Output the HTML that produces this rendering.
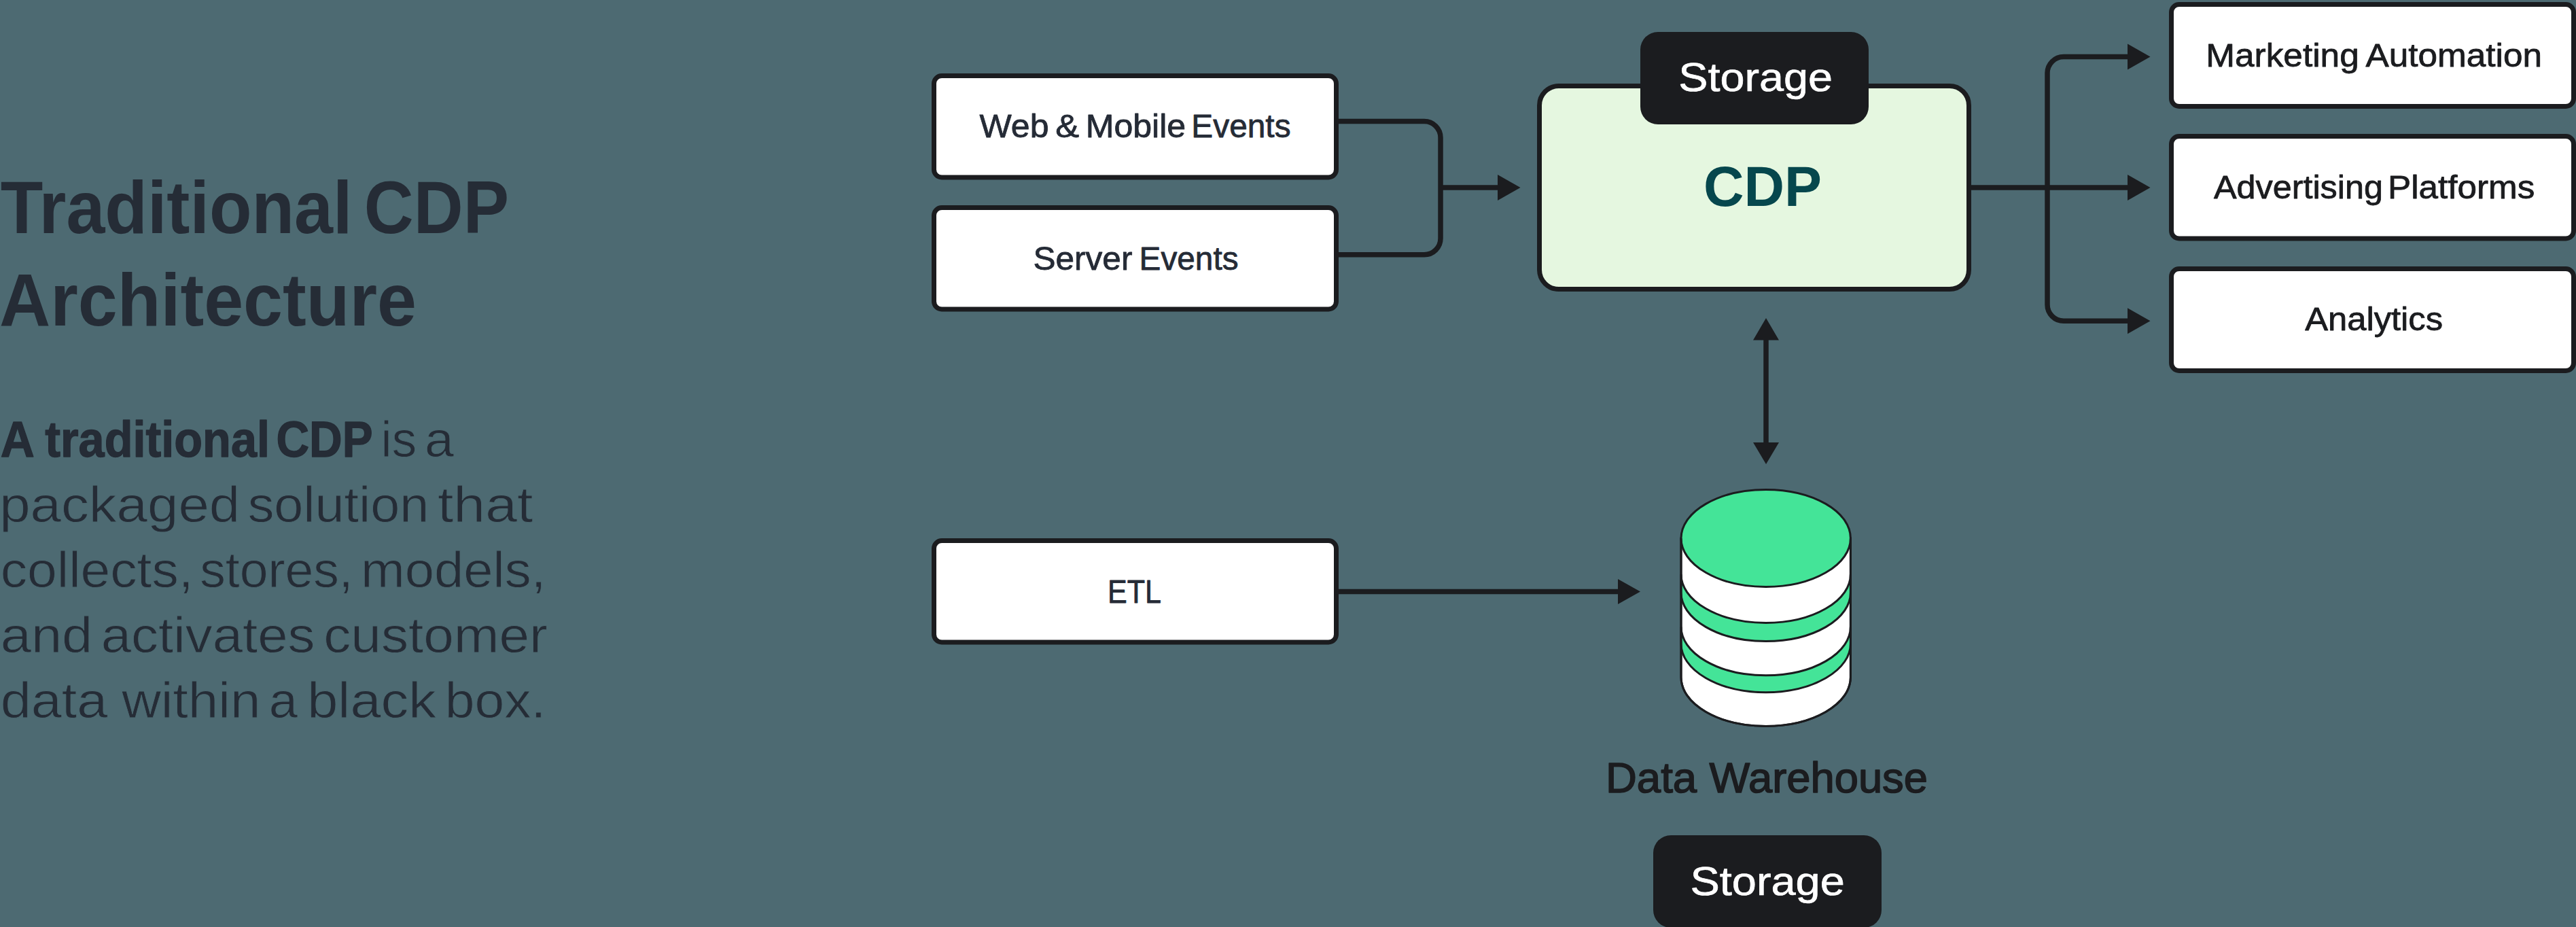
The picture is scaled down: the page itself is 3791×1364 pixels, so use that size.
<!DOCTYPE html>
<html>
<head>
<meta charset="utf-8">
<style>
html,body{margin:0;padding:0;background:#4d6a72;width:3791px;height:1364px;overflow:hidden;}
svg{display:block;position:absolute;left:0;top:0;}
text{font-family:"Liberation Sans",sans-serif;}
</style>
</head>
<body>
<svg width="3791" height="1364" viewBox="0 0 3791 1364">
<rect x="0" y="0" width="3791" height="1364" fill="#4d6a72"/>

<!-- Boxes -->
<g fill="#ffffff" stroke="#1b1c1f" stroke-width="7">
<rect x="1374.5" y="111.5" width="592" height="149.5" rx="11.5"/>
<rect x="1374.5" y="305.5" width="592" height="149.5" rx="11.5"/>
<rect x="1374.5" y="795.5" width="592" height="149.5" rx="11.5"/>
<rect x="3195.5" y="6.5" width="592" height="150" rx="11.5"/>
<rect x="3195.5" y="200.5" width="592" height="150.5" rx="11.5"/>
<rect x="3195.5" y="395.5" width="592" height="150" rx="11.5"/>
</g>

<!-- CDP box -->
<rect x="2265.5" y="126.5" width="632" height="299" rx="28.5" fill="#e5f7e0" stroke="#1b1c1f" stroke-width="7"/>

<!-- Storage pills -->
<rect x="2414" y="47" width="336" height="136" rx="26" fill="#1b1c1f"/>
<rect x="2433" y="1229" width="336" height="136" rx="26" fill="#1b1c1f"/>

<!-- Connectors -->
<g fill="none" stroke="#1b1c1f" stroke-width="7.5">
<path d="M1966,178.5 H2096 A24,24 0 0 1 2120,202.5 V350.8 A24,24 0 0 1 2096,374.8 H1966"/>
<path d="M2120,276 H2206"/>
<path d="M2897,276 H3133"/>
<path d="M3133,83.5 H3037 A24,24 0 0 0 3013,107.5 V448.3 A24,24 0 0 0 3037,472.3 H3133"/>
<path d="M2599,498 V653"/>
<path d="M1966,870.5 H2383"/>
</g>
<g fill="#1b1c1f">
<polygon points="2204,257 2237.5,276 2204,295"/>
<polygon points="3131,257 3164.5,276 3131,295"/>
<polygon points="3131,64.5 3164.5,83.5 3131,102.5"/>
<polygon points="3131,453.3 3164.5,472.3 3131,491.3"/>
<polygon points="2580,500.5 2599,468 2618,500.5"/>
<polygon points="2580,651 2599,683 2618,651"/>
<polygon points="2381,852 2414,870.5 2381,889"/>
</g>

<!-- Database cylinder -->
<g stroke="#1b1c1f" stroke-width="3">
<path d="M2474.00,791.95 V996.85 A124.7,71.55 0 0 0 2723.40,996.85 V791.95 Z" fill="#ffffff"/>
<path d="M2474.00,844.95 A124.7,71.55 0 0 0 2723.40,844.95 V872.05 A124.7,71.55 0 0 1 2474.00,872.05 Z" fill="#44e498"/>
<path d="M2474.00,922.25 A124.7,71.55 0 0 0 2723.40,922.25 V947.15 A124.7,71.55 0 0 1 2474.00,947.15 Z" fill="#44e498"/>
<ellipse cx="2598.7" cy="791.95" rx="124.7" ry="71.55" fill="#44e498"/>
<path d="M2474.00,791.95 V996.85 A124.7,71.55 0 0 0 2723.40,996.85 V791.95" fill="none"/>
</g>

<!-- Text -->
<text x="0.70" y="343" font-size="109" font-weight="700" fill="#252c36" textLength="517.70" lengthAdjust="spacingAndGlyphs">Traditional</text>
<text x="535.85" y="343" font-size="109" font-weight="700" fill="#252c36" textLength="213.15" lengthAdjust="spacingAndGlyphs">CDP</text>
<text x="-1.00" y="479" font-size="109" font-weight="700" fill="#252c36" textLength="614.00" lengthAdjust="spacingAndGlyphs">Architecture</text>
<text x="0.85" y="672" font-size="73.5" font-weight="700" fill="#252c36" stroke="#252c36" stroke-width="1.3" stroke-linejoin="round" textLength="50.10" lengthAdjust="spacingAndGlyphs">A</text>
<text x="66.20" y="672" font-size="73.5" font-weight="700" fill="#252c36" stroke="#252c36" stroke-width="1.3" stroke-linejoin="round" textLength="330.80" lengthAdjust="spacingAndGlyphs">traditional</text>
<text x="406.40" y="672" font-size="73.5" font-weight="700" fill="#252c36" stroke="#252c36" stroke-width="1.3" stroke-linejoin="round" textLength="142.15" lengthAdjust="spacingAndGlyphs">CDP</text>
<text x="560.50" y="672" font-size="73.5" font-weight="400" fill="#252c36" stroke="#4d6a72" stroke-width="0.8" stroke-linejoin="round" textLength="52.50" lengthAdjust="spacingAndGlyphs">is</text>
<text x="624.95" y="672" font-size="73.5" font-weight="400" fill="#252c36" stroke="#4d6a72" stroke-width="0.8" stroke-linejoin="round" textLength="42.90" lengthAdjust="spacingAndGlyphs">a</text>
<text x="-0.85" y="768" font-size="73.5" font-weight="400" fill="#252c36" stroke="#4d6a72" stroke-width="0.8" stroke-linejoin="round" textLength="354.05" lengthAdjust="spacingAndGlyphs">packaged</text>
<text x="364.65" y="768" font-size="73.5" font-weight="400" fill="#252c36" stroke="#4d6a72" stroke-width="0.8" stroke-linejoin="round" textLength="266.70" lengthAdjust="spacingAndGlyphs">solution</text>
<text x="644.00" y="768" font-size="73.5" font-weight="400" fill="#252c36" stroke="#4d6a72" stroke-width="0.8" stroke-linejoin="round" textLength="140.30" lengthAdjust="spacingAndGlyphs">that</text>
<text x="0.70" y="864" font-size="73.5" font-weight="400" fill="#252c36" stroke="#4d6a72" stroke-width="0.8" stroke-linejoin="round" textLength="283.90" lengthAdjust="spacingAndGlyphs">collects,</text>
<text x="294.20" y="864" font-size="73.5" font-weight="400" fill="#252c36" stroke="#4d6a72" stroke-width="0.8" stroke-linejoin="round" textLength="225.55" lengthAdjust="spacingAndGlyphs">stores,</text>
<text x="530.90" y="864" font-size="73.5" font-weight="400" fill="#252c36" stroke="#4d6a72" stroke-width="0.8" stroke-linejoin="round" textLength="272.50" lengthAdjust="spacingAndGlyphs">models,</text>
<text x="0.70" y="960" font-size="73.5" font-weight="400" fill="#252c36" stroke="#4d6a72" stroke-width="0.8" stroke-linejoin="round" textLength="135.65" lengthAdjust="spacingAndGlyphs">and</text>
<text x="148.70" y="960" font-size="73.5" font-weight="400" fill="#252c36" stroke="#4d6a72" stroke-width="0.8" stroke-linejoin="round" textLength="314.70" lengthAdjust="spacingAndGlyphs">activates</text>
<text x="476.25" y="960" font-size="73.5" font-weight="400" fill="#252c36" stroke="#4d6a72" stroke-width="0.8" stroke-linejoin="round" textLength="329.55" lengthAdjust="spacingAndGlyphs">customer</text>
<text x="0.70" y="1056" font-size="73.5" font-weight="400" fill="#252c36" stroke="#4d6a72" stroke-width="0.8" stroke-linejoin="round" textLength="157.50" lengthAdjust="spacingAndGlyphs">data</text>
<text x="179.20" y="1056" font-size="73.5" font-weight="400" fill="#252c36" stroke="#4d6a72" stroke-width="0.8" stroke-linejoin="round" textLength="204.20" lengthAdjust="spacingAndGlyphs">within</text>
<text x="395.75" y="1056" font-size="73.5" font-weight="400" fill="#252c36" stroke="#4d6a72" stroke-width="0.8" stroke-linejoin="round" textLength="42.20" lengthAdjust="spacingAndGlyphs">a</text>
<text x="452.20" y="1056" font-size="73.5" font-weight="400" fill="#252c36" stroke="#4d6a72" stroke-width="0.8" stroke-linejoin="round" textLength="189.60" lengthAdjust="spacingAndGlyphs">black</text>
<text x="654.65" y="1056" font-size="73.5" font-weight="400" fill="#252c36" stroke="#4d6a72" stroke-width="0.8" stroke-linejoin="round" textLength="148.75" lengthAdjust="spacingAndGlyphs">box.</text>
<text x="1441.50" y="202" font-size="48" font-weight="400" fill="#252b36" stroke="#252b36" stroke-width="0.8" stroke-linejoin="round" textLength="102.05" lengthAdjust="spacingAndGlyphs">Web</text>
<text x="1553.25" y="202" font-size="48" font-weight="400" fill="#252b36" stroke="#252b36" stroke-width="0.8" stroke-linejoin="round" textLength="34.90" lengthAdjust="spacingAndGlyphs">&amp;</text>
<text x="1597.75" y="202" font-size="48" font-weight="400" fill="#252b36" stroke="#252b36" stroke-width="0.8" stroke-linejoin="round" textLength="147.45" lengthAdjust="spacingAndGlyphs">Mobile</text>
<text x="1753.35" y="202" font-size="48" font-weight="400" fill="#252b36" stroke="#252b36" stroke-width="0.8" stroke-linejoin="round" textLength="146.20" lengthAdjust="spacingAndGlyphs">Events</text>
<text x="1520.40" y="397" font-size="48" font-weight="400" fill="#252b36" stroke="#252b36" stroke-width="0.8" stroke-linejoin="round" textLength="146.00" lengthAdjust="spacingAndGlyphs">Server</text>
<text x="1676.60" y="397" font-size="48" font-weight="400" fill="#252b36" stroke="#252b36" stroke-width="0.8" stroke-linejoin="round" textLength="145.95" lengthAdjust="spacingAndGlyphs">Events</text>
<text x="1630.00" y="886.6" font-size="48" font-weight="400" fill="#252b36" stroke="#252b36" stroke-width="0.8" stroke-linejoin="round" textLength="79.00" lengthAdjust="spacingAndGlyphs">ETL</text>
<text x="3246.15" y="97.5" font-size="48" font-weight="400" fill="#1b1c1f" stroke="#1b1c1f" stroke-width="0.8" stroke-linejoin="round" textLength="225.60" lengthAdjust="spacingAndGlyphs">Marketing</text>
<text x="3481.55" y="97.5" font-size="48" font-weight="400" fill="#1b1c1f" stroke="#1b1c1f" stroke-width="0.8" stroke-linejoin="round" textLength="259.40" lengthAdjust="spacingAndGlyphs">Automation</text>
<text x="3257.90" y="292" font-size="48" font-weight="400" fill="#1b1c1f" stroke="#1b1c1f" stroke-width="0.8" stroke-linejoin="round" textLength="249.05" lengthAdjust="spacingAndGlyphs">Advertising</text>
<text x="3514.10" y="292" font-size="48" font-weight="400" fill="#1b1c1f" stroke="#1b1c1f" stroke-width="0.8" stroke-linejoin="round" textLength="216.20" lengthAdjust="spacingAndGlyphs">Platforms</text>
<text x="3392.20" y="486.4" font-size="48" font-weight="400" fill="#1b1c1f" stroke="#1b1c1f" stroke-width="0.8" stroke-linejoin="round" textLength="202.90" lengthAdjust="spacingAndGlyphs">Analytics</text>
<text x="2507.00" y="302.8" font-size="84" font-weight="700" fill="#06474d" textLength="174.00" lengthAdjust="spacingAndGlyphs">CDP</text>
<text x="2470.30" y="134" font-size="60" font-weight="400" fill="#ffffff" stroke="#ffffff" stroke-width="0.7" stroke-linejoin="round" textLength="226.70" lengthAdjust="spacingAndGlyphs">Storage</text>
<text x="2487.50" y="1316.6" font-size="60" font-weight="400" fill="#ffffff" stroke="#ffffff" stroke-width="0.7" stroke-linejoin="round" textLength="227.30" lengthAdjust="spacingAndGlyphs">Storage</text>
<text x="2362.90" y="1166" font-size="63" font-weight="400" fill="#1b1c1f" stroke="#1b1c1f" stroke-width="1.6" stroke-linejoin="round" textLength="134.30" lengthAdjust="spacingAndGlyphs">Data</text>
<text x="2515.55" y="1166" font-size="63" font-weight="400" fill="#1b1c1f" stroke="#1b1c1f" stroke-width="1.6" stroke-linejoin="round" textLength="321.45" lengthAdjust="spacingAndGlyphs">Warehouse</text>
</svg>
</body>
</html>
